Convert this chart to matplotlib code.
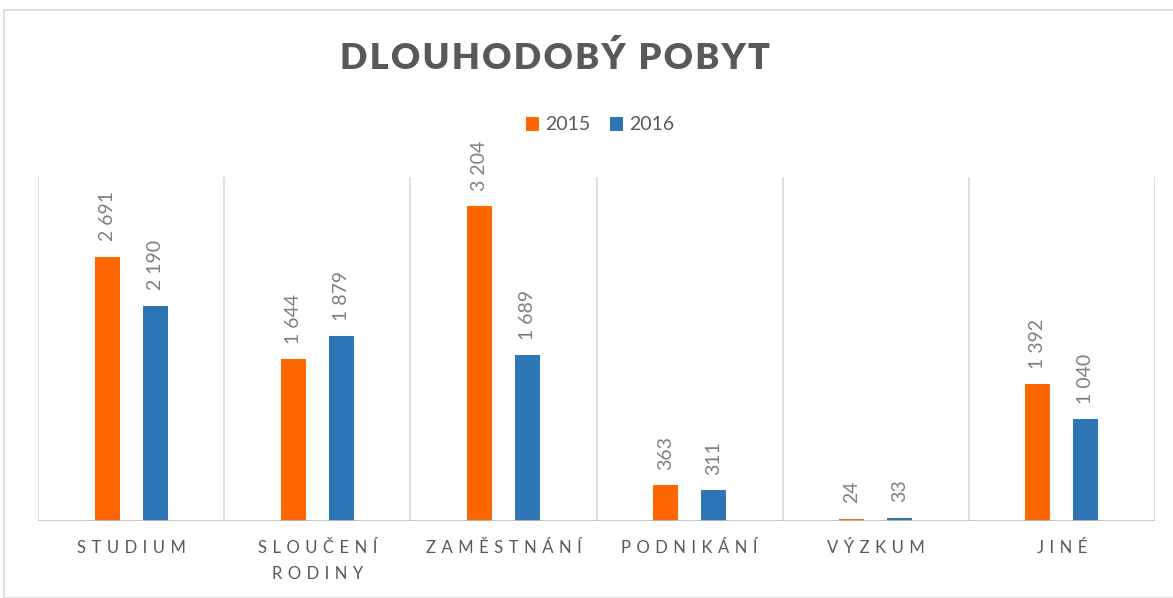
import numpy as np
import matplotlib
matplotlib.use("Agg")
import matplotlib.pyplot as plt
from matplotlib.patches import Rectangle

categories = ["STUDIUM", "SLOUČENÍ\nRODINY", "ZAMĚSTNÁNÍ", "PODNIKÁNÍ", "VÝZKUM", "JINÉ"]
values_2015 = [2691, 1644, 3204, 363, 24, 1392]
values_2016 = [2190, 1879, 1689, 311, 33, 1040]
series_names = ["2015", "2016"]

orange = "#ff6600"
blue = "#2e75b6"
text_gray = "#595959"
label_gray = "#7f7f7f"

plt.rcParams["font.family"] = ["Lato", "DejaVu Sans"]


def spaced(s, sep="\u200a"):
    # imitate letter spacing of the original
    return "\n".join(sep.join(line) for line in s.split("\n"))


def fmt(v):
    return f"{v:,}".replace(",", " ")


fig = plt.figure(figsize=(11.73, 5.98), dpi=100)
fig.patches.append(Rectangle((4 / 1173, 0), 1.0, 1 - 10 / 598, transform=fig.transFigure,
                             fill=False, edgecolor="#d9d9d9", linewidth=1.2))

ax = fig.add_axes([38 / 1173, 1 - 521 / 598, (1155 - 38) / 1173, (521 - 177) / 598])
x = np.arange(len(categories))
w = 0.135
off = 0.129
b1 = ax.bar(x - off, values_2015, w, color=orange, label=series_names[0])
b2 = ax.bar(x + off, values_2016, w, color=blue, label=series_names[1])

ax.set_xlim(-0.5, len(categories) - 0.5)
ax.set_ylim(0, 3500)
for s in ax.spines.values():
    s.set_visible(False)
ax.axhline(0, color="#bfbfbf", lw=1.2, zorder=3)
for b in np.arange(-0.5, len(categories), 1.0):
    ax.axvline(b, color="#d9d9d9", lw=1.2, zorder=0)
ax.set_yticks([])
ax.set_xticks([])

for bars in (b1, b2):
    for r in bars:
        v = r.get_height()
        ax.annotate(fmt(int(v)), (r.get_x() + r.get_width() / 2, v), xytext=(0, 11),
                    textcoords="offset points", rotation=90, ha="center", va="bottom",
                    fontsize=14, color=label_gray)

for i, c in enumerate(categories):
    ax.text(i, -0.055, spaced(c, "\u2004"), transform=ax.get_xaxis_transform(), ha="center",
            va="top", fontsize=12, color=text_gray, linespacing=1.8)

fig.text(555 / 1173, 1 - 58 / 598, spaced("DLOUHODOBÝ POBYT", "\u200a"), ha="center", va="center",
         fontsize=26, fontweight="heavy", color=text_gray)

fig.legend(handles=[b1, b2], labels=series_names, loc="center", bbox_to_anchor=(600 / 1173, 1 - 125 / 598),
           ncol=2, frameon=False, fontsize=14, handlelength=0.7, handleheight=0.7,
           columnspacing=1.0, handletextpad=0.3, labelcolor=text_gray)

fig.savefig("out.png", dpi=100)
